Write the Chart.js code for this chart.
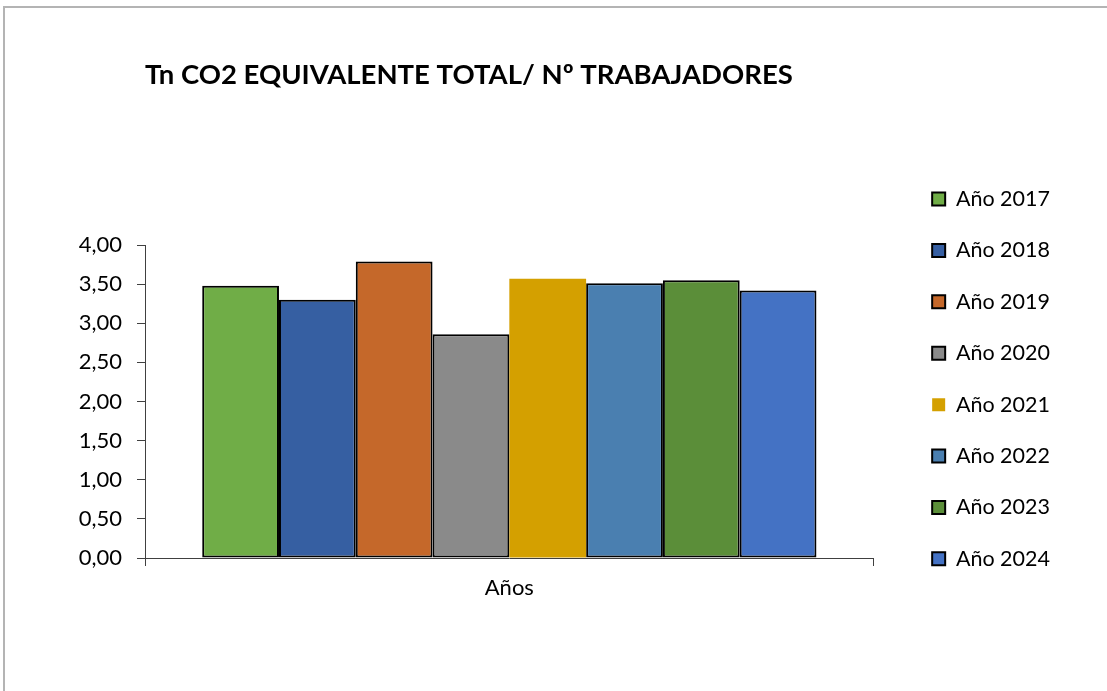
<!DOCTYPE html>
<html>
<head>
<meta charset="utf-8">
<script src="https://cdn.jsdelivr.net/npm/chart.js@4.4.1/dist/chart.umd.min.js"></script>
<style>
html, body { margin: 0; padding: 0; background: #fff; overflow: hidden; }
#frame { position: absolute; left: 3px; top: 6px; right: -10px; bottom: -10px; border-left: 2px solid #b4b4b4; border-top: 2px solid #b4b4b4; }
#c { position: absolute; left: 0; top: 0; }
</style>
</head>
<body>
<div id="frame"></div>
<canvas id="c" width="1107" height="691"></canvas>
<script>
const categories = ['Años'];
const seriesNames = ['Año 2017', 'Año 2018', 'Año 2019', 'Año 2020', 'Año 2021', 'Año 2022', 'Año 2023', 'Año 2024'];
const seriesValues = [3.48, 3.30, 3.79, 2.86, 3.57, 3.51, 3.55, 3.42];
const seriesColors = ['#70ad47', '#365fa2', '#c5682a', '#8a8a8a', '#d4a000', '#4a7fb0', '#5b8e39', '#4472c4'];
const seriesBorders = [2, 2, 2, 2, 0, 2, 2, 2];

const font = 'Lato';

const datasets = seriesNames.map((name, i) => ({
    label: name,
    data: [seriesValues[i]],
    backgroundColor: seriesColors[i],
    borderColor: '#000',
    borderWidth: seriesBorders[i],
    borderSkipped: false,
    barPercentage: 1,
    categoryPercentage: 0.843,
}));

new Chart(document.getElementById('c'), {
    type: 'bar',
    data: {
        labels: categories,
        datasets: datasets,
    },
    options: {
        responsive: false,
        animation: false,
        layout: {
            padding: { left: 78, right: 47, top: 0, bottom: 0 }
        },
        plugins: {
            title: {
                display: true,
                fullSize: false,
                text: 'Tn CO2 EQUIVALENTE TOTAL/ Nº TRABAJADORES',
                align: 'start',
                color: '#000',
                font: { family: font, size: 27.5, weight: 'bold' },
                padding: { top: 58.5, bottom: 153.5 }
            },
            legend: {
                position: 'right',
                align: 'start',
                title: { display: true, text: '', padding: { top: 144, bottom: 0 } },
                labels: {
                    boxWidth: 13,
                    boxHeight: 13,
                    padding: 29.9,
                    color: '#000',
                    font: { family: font, size: 21.5 }
                }
            },
            tooltip: { enabled: false }
        },
        scales: {
            x: {
                grid: { drawOnChartArea: false, tickLength: 8, color: '#404040' },
                border: { color: '#404040' },
                ticks: { color: '#000', font: { family: font, size: 22 }, padding: 9 },
                afterFit: s => { s.height = 133; }
            },
            y: {
                min: 0,
                max: 4,
                ticks: {
                    stepSize: 0.5,
                    color: '#000',
                    font: { family: font, size: 22 },
                    padding: 15,
                    callback: v => v.toFixed(2).replace('.', ',')
                },
                grid: { drawOnChartArea: false, tickLength: 8, color: '#404040' },
                border: { color: '#404040' },
                afterFit: s => { s.width = 67; }
            },
            y2: {
                position: 'right',
                grid: { display: false },
                border: { display: false },
                ticks: { display: false },
                afterFit: s => { s.width = 28.6; }
            }
        }
    }
});
</script>
</body>
</html>
